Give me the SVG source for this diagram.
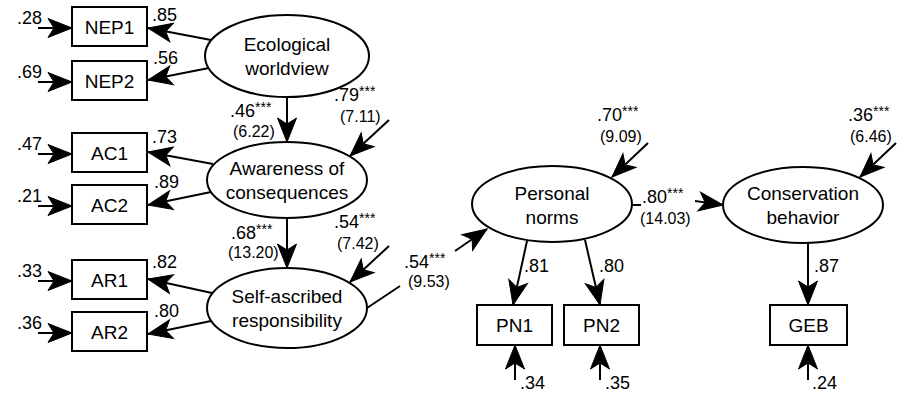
<svg xmlns="http://www.w3.org/2000/svg" width="903" height="396" viewBox="0 0 903 396">
<style>
.box{fill:#fff;stroke:#000;stroke-width:2}
.lat{fill:#fff;stroke:#000;stroke-width:2}
text{font-family:"Liberation Sans",Arial,Helvetica,sans-serif;fill:#000}
.n{font-size:19px;text-anchor:middle}
.v{font-size:18px}
.t{font-size:16px}
.s{font-size:14px}
.c line,.c path{stroke:#000;stroke-width:2;fill:none}
</style>
<defs>
<marker id="ah" markerUnits="userSpaceOnUse" markerWidth="28" markerHeight="22" refX="25" refY="11" orient="auto" overflow="visible">
<path d="M25,11 L1,1.5 L7,11 L1,20.5 Z" fill="#000" stroke="#000" stroke-width="1" stroke-linejoin="miter"/>
</marker>
</defs>
<rect width="903" height="396" fill="#fff"/>

<g class="c" id="connectors">
<line x1="38" y1="28" x2="72" y2="28" marker-end="url(#ah)"/>
<line x1="38" y1="82" x2="72" y2="82" marker-end="url(#ah)"/>
<line x1="38" y1="154" x2="72" y2="154" marker-end="url(#ah)"/>
<line x1="38" y1="206" x2="72" y2="206" marker-end="url(#ah)"/>
<line x1="38" y1="281" x2="72" y2="281" marker-end="url(#ah)"/>
<line x1="38" y1="333" x2="72" y2="333" marker-end="url(#ah)"/>
<line x1="211" y1="40" x2="148" y2="28" marker-end="url(#ah)"/>
<line x1="209" y1="68" x2="148" y2="80" marker-end="url(#ah)"/>
<line x1="213" y1="164" x2="148" y2="152" marker-end="url(#ah)"/>
<line x1="211" y1="192" x2="148" y2="205" marker-end="url(#ah)"/>
<line x1="212" y1="293" x2="148" y2="279" marker-end="url(#ah)"/>
<line x1="211" y1="321" x2="148" y2="334" marker-end="url(#ah)"/>
<line x1="287" y1="97" x2="287" y2="142" marker-end="url(#ah)"/>
<line x1="287" y1="218" x2="287" y2="268" marker-end="url(#ah)"/>
<line x1="389" y1="120" x2="350" y2="156" marker-end="url(#ah)"/>
<line x1="389" y1="246" x2="350" y2="282" marker-end="url(#ah)"/>
<line x1="648" y1="143" x2="612" y2="177" marker-end="url(#ah)"/>
<line x1="896" y1="143" x2="860" y2="177" marker-end="url(#ah)"/>
<line x1="367" y1="308" x2="400" y2="286"/>
<line x1="455" y1="251" x2="487" y2="229" marker-end="url(#ah)"/>
<line x1="632" y1="205" x2="641" y2="205"/>
<line x1="695" y1="201" x2="723" y2="205" marker-end="url(#ah)"/>
<line x1="527" y1="241" x2="513" y2="305" marker-end="url(#ah)"/>
<line x1="585" y1="240" x2="600" y2="305" marker-end="url(#ah)"/>
<line x1="808" y1="243" x2="808" y2="305" marker-end="url(#ah)"/>
<line x1="515" y1="380" x2="515" y2="345" marker-end="url(#ah)"/>
<line x1="600" y1="380" x2="600" y2="345" marker-end="url(#ah)"/>
<line x1="808" y1="380" x2="808" y2="345" marker-end="url(#ah)"/>
</g>

<g id="labels">
<text class="v" x="17" y="24">.28</text>
<text class="v" x="17" y="78">.69</text>
<text class="v" x="17" y="150">.47</text>
<text class="v" x="17" y="202">.21</text>
<text class="v" x="17" y="277">.33</text>
<text class="v" x="17" y="329">.36</text>
<text class="v" x="152" y="21">.85</text>
<text class="v" x="153" y="64">.56</text>
<text class="v" x="152" y="143">.73</text>
<text class="v" x="154" y="188">.89</text>
<text class="v" x="152" y="268">.82</text>
<text class="v" x="154" y="317">.80</text>
<text class="v" x="230" y="117">.46<tspan class="s" dy="-5">***</tspan></text>
<text class="t" x="233" y="137">(6.22)</text>
<text class="v" x="334" y="101">.79<tspan class="s" dy="-5">***</tspan></text>
<text class="t" x="340" y="122">(7.11)</text>
<text class="v" x="231" y="239">.68<tspan class="s" dy="-5">***</tspan></text>
<text class="t" x="228" y="258">(13.20)</text>
<text class="v" x="334" y="228">.54<tspan class="s" dy="-5">***</tspan></text>
<text class="t" x="337" y="249">(7.42)</text>
<text class="v" x="404" y="268">.54<tspan class="s" dy="-5">***</tspan></text>
<text class="t" x="408" y="287">(9.53)</text>
<text class="v" x="597" y="121">.70<tspan class="s" dy="-5">***</tspan></text>
<text class="t" x="600" y="142">(9.09)</text>
<text class="v" x="642" y="203">.80<tspan class="s" dy="-5">***</tspan></text>
<text class="t" x="640" y="224">(14.03)</text>
<text class="v" x="848" y="121">.36<tspan class="s" dy="-5">***</tspan></text>
<text class="t" x="850" y="142">(6.46)</text>
<text class="v" x="524" y="272">.81</text>
<text class="v" x="599" y="272">.80</text>
<text class="v" x="814" y="272">.87</text>
<text class="v" x="520" y="389">.34</text>
<text class="v" x="605" y="389">.35</text>
<text class="v" x="812" y="389">.24</text>
</g>

<g id="NEP1"><rect class="box" x="72" y="7" width="75" height="39"/><text class="n" x="109.5" y="33.5">NEP1</text></g>
<g id="NEP2"><rect class="box" x="72" y="61" width="75" height="39"/><text class="n" x="109.5" y="87.5">NEP2</text></g>
<g id="AC1"><rect class="box" x="72" y="133" width="75" height="39"/><text class="n" x="109.5" y="159.5">AC1</text></g>
<g id="AC2"><rect class="box" x="72" y="185" width="75" height="39"/><text class="n" x="109.5" y="211.5">AC2</text></g>
<g id="AR1"><rect class="box" x="72" y="260" width="75" height="39"/><text class="n" x="109.5" y="286.5">AR1</text></g>
<g id="AR2"><rect class="box" x="72" y="312" width="75" height="39"/><text class="n" x="109.5" y="338.5">AR2</text></g>
<g id="PN1"><rect class="box" x="477" y="305" width="75" height="40"/><text class="n" x="514.5" y="332">PN1</text></g>
<g id="PN2"><rect class="box" x="564" y="305" width="75" height="40"/><text class="n" x="601.5" y="332">PN2</text></g>
<g id="GEB"><rect class="box" x="770" y="305" width="77" height="40"/><text class="n" x="808.5" y="332">GEB</text></g>

<g id="ecological"><ellipse class="lat" cx="287" cy="56" rx="82" ry="41"/><text class="n" x="287" y="51">Ecological</text><text class="n" x="287" y="75">worldview</text></g>
<g id="awareness"><ellipse class="lat" cx="287" cy="180" rx="80" ry="38"/><text class="n" x="287" y="175">Awareness of</text><text class="n" x="287" y="199">consequences</text></g>
<g id="selfascribed"><ellipse class="lat" cx="287" cy="308" rx="80" ry="40"/><text class="n" x="287" y="303">Self-ascribed</text><text class="n" x="287" y="327">responsibility</text></g>
<g id="personal"><ellipse class="lat" cx="552" cy="204" rx="80" ry="38"/><text class="n" x="552" y="200">Personal</text><text class="n" x="552" y="224">norms</text></g>
<g id="conservation"><ellipse class="lat" cx="803" cy="205" rx="80" ry="38"/><text class="n" x="803" y="200">Conservation</text><text class="n" x="803" y="224">behavior</text></g>
</svg>
